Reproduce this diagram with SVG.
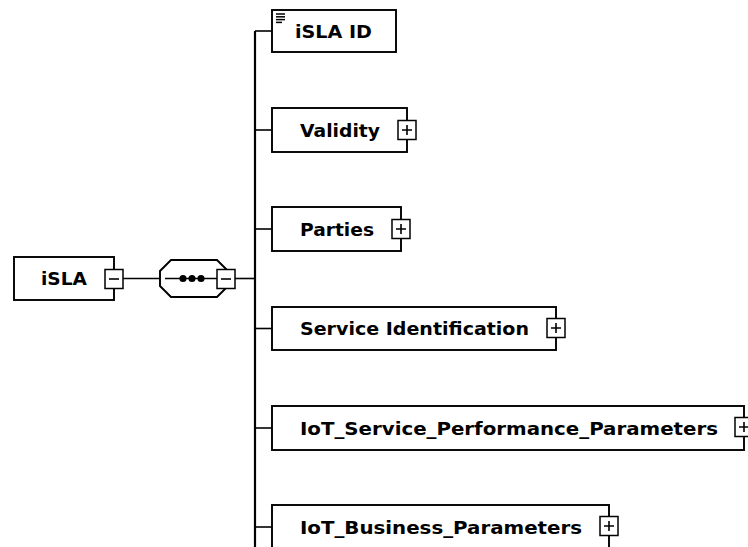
<svg xmlns="http://www.w3.org/2000/svg" width="748" height="547" viewBox="0 0 748 547">
<style>
.box{fill:#fff;stroke:#000;stroke-width:1.9}
.btn{fill:#fff;stroke:#000;stroke-width:1.5}
.ln{fill:none;stroke:#000;stroke-width:1.6}
.lbl{font-family:"DejaVu Sans",Verdana,sans-serif;font-weight:bold;font-size:18.5px;fill:#000}
</style>
<rect width="748" height="547" fill="#fff"/>
<g id="connectors">
<line class="ln" x1="123" y1="278.5" x2="160" y2="278.5"/>
<line class="ln" x1="235" y1="278.5" x2="255" y2="278.5"/>
<line x1="255" y1="31" x2="255" y2="547" stroke="#000" stroke-width="2.2"/>
<line class="ln" x1="255" y1="31" x2="272" y2="31"/>
<line class="ln" x1="255" y1="130" x2="272" y2="130"/>
<line class="ln" x1="255" y1="229" x2="272" y2="229"/>
<line class="ln" x1="255" y1="328.5" x2="272" y2="328.5"/>
<line class="ln" x1="255" y1="428" x2="272" y2="428"/>
<line class="ln" x1="255" y1="527" x2="272" y2="527"/>
</g>
<g id="iSLA">
<rect class="box" x="14" y="257" width="100" height="43"/>
<text class="lbl" x="41" y="285" textLength="46" lengthAdjust="spacingAndGlyphs">iSLA</text>
<rect class="btn" x="105" y="269.5" width="18" height="19"/>
<line class="ln" x1="109" y1="279" x2="119" y2="279"/>
</g>
<g id="sequence">
<polygon class="box" points="171,260 217,260 228,271 228,286 217,297 171,297 160,286 160,271"/>
<line class="ln" x1="165" y1="278.5" x2="217" y2="278.5"/>
<circle cx="183" cy="278.5" r="3.6"/>
<circle cx="192" cy="278.5" r="3.6"/>
<circle cx="201" cy="278.5" r="3.6"/>
<rect class="btn" x="217" y="269.5" width="18" height="19"/>
<line class="ln" x1="221" y1="279" x2="231" y2="279"/>
</g>
<g id="iSLA_ID">
<rect class="box" x="272" y="10" width="124" height="42"/>
<g stroke="#000" stroke-width="1.5">
<line x1="276" y1="14" x2="285" y2="14"/>
<line x1="276" y1="16.8" x2="285" y2="16.8"/>
<line x1="276" y1="19.6" x2="285" y2="19.6"/>
<line x1="276" y1="22.4" x2="282" y2="22.4"/>
</g>
<text class="lbl" x="295" y="38" textLength="77" lengthAdjust="spacingAndGlyphs">iSLA ID</text>
</g>
<g id="Validity">
<rect class="box" x="272" y="108" width="135" height="44"/>
<text class="lbl" x="300" y="137" textLength="80" lengthAdjust="spacingAndGlyphs">Validity</text>
<rect class="btn" x="398" y="120.5" width="18" height="19"/>
<path class="ln" d="M402 130H412M407 125V135"/>
</g>
<g id="Parties">
<rect class="box" x="272" y="207" width="129" height="44"/>
<text class="lbl" x="300" y="236" textLength="74" lengthAdjust="spacingAndGlyphs">Parties</text>
<rect class="btn" x="392" y="219.5" width="18" height="19"/>
<path class="ln" d="M396 229H406M401 224V234"/>
</g>
<g id="Service_Identification">
<rect class="box" x="272" y="307" width="284" height="43"/>
<text class="lbl" x="300" y="335" textLength="229" lengthAdjust="spacingAndGlyphs">Service Identification</text>
<rect class="btn" x="547" y="318.5" width="18" height="19"/>
<path class="ln" d="M551 328H561M556 323V333"/>
</g>
<g id="IoT_Service_Performance_Parameters">
<rect class="box" x="272" y="406" width="472" height="44"/>
<text class="lbl" x="300" y="435" textLength="418" lengthAdjust="spacingAndGlyphs">IoT_Service_Performance_Parameters</text>
<rect class="btn" x="735" y="417.5" width="18" height="19"/>
<path class="ln" d="M739 427H749M744 422V432"/>
</g>
<g id="IoT_Business_Parameters">
<rect class="box" x="272" y="505" width="337" height="50"/>
<text class="lbl" x="300" y="534" textLength="282" lengthAdjust="spacingAndGlyphs">IoT_Business_Parameters</text>
<rect class="btn" x="600" y="516.5" width="18" height="19"/>
<path class="ln" d="M604 526H614M609 521V531"/>
</g>
</svg>
